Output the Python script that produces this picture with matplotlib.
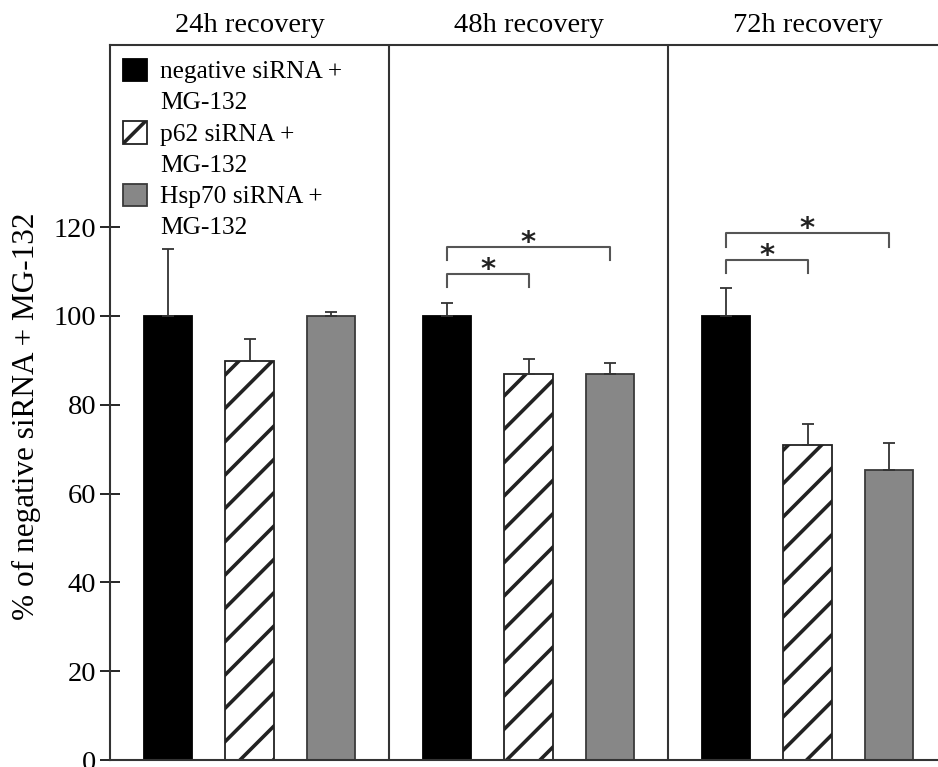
import matplotlib.pyplot as plt
from matplotlib.patches import Rectangle

plt.rcParams['font.family'] = ['Liberation Serif', 'DejaVu Serif']
plt.rcParams['hatch.linewidth'] = 2.6

# data
panels = ['24h recovery', '48h recovery', '72h recovery']
groups = ['negative siRNA +\nMG-132', 'p62 siRNA +\nMG-132', 'Hsp70 siRNA +\nMG-132']
neg_vals = [100, 100, 100]
neg_err = [15, 3, 6.3]
p62_vals = [89.8, 87, 71]
p62_err = [5, 3.2, 4.7]
hsp_vals = [100, 87, 65.3]
hsp_err = [0.8, 2.4, 6]
# significance brackets: (panel, bar a, bar b, height)
sig = [(1, 0, 1, 109.4), (1, 0, 2, 115.5), (2, 0, 1, 112.6), (2, 0, 2, 118.6)]

series = [neg_vals, p62_vals, hsp_vals]
errs = [neg_err, p62_err, hsp_err]
faces = ['black', 'white', '#878787']
edges = ['black', '#222222', '#3a3a3a']
hatches = [None, '/', None]

gap = 3.42   # spacing between panel groups
width = 0.59

fig = plt.figure(figsize=(9.38, 7.67), dpi=100)
ax = fig.add_axes([110/938, 7/767, 837/938, 715/767])

for i in range(3):
    xs = [g*gap + i for g in range(3)]
    ax.bar(xs, series[i], width=width, color=faces[i], edgecolor=edges[i],
           hatch=hatches[i], linewidth=1.3, zorder=2)
    ax.errorbar(xs, series[i], yerr=[[0]*3, errs[i]], fmt='none', ecolor='#333333',
                elinewidth=1.3, capsize=4.5, capthick=1.3, zorder=3)

for p, a, b, h in sig:
    xa = p*gap + a
    xb = p*gap + b
    ax.plot([xa, xa, xb, xb], [h-3.0, h, h, h-3.0], color='#555555', lw=1.5, zorder=3)
    ax.text((xa + xb)/2, h - 0.9, '*', ha='center', va='baseline', fontsize=21,
            family='DejaVu Sans', weight='bold', color='#222222')

ax.set_xlim(-0.71, 3*gap - 0.71)
ax.set_ylim(0, 161)
for g in range(1, 3):
    ax.axvline(g*gap - 0.71, color='#333333', lw=1.5)
for g, name in enumerate(panels):
    ax.text(g*gap - 0.71 + gap/2, 162.5, name, ha='center', va='bottom', fontsize=20.5)

ax.spines['right'].set_visible(False)
for s in ['left', 'bottom', 'top']:
    ax.spines[s].set_linewidth(1.5)
    ax.spines[s].set_color('#333333')
ax.set_xticks([])
ax.set_yticks([0, 20, 40, 60, 80, 100, 120])
ax.tick_params(axis='y', direction='inout', length=14, width=1.2, labelsize=20.5, pad=3)
fig.text(26/938, 1 - 416/767, '% of negative siRNA + MG-132', rotation=90,
         ha='center', va='center', fontsize=22.5)

# legend drawn by hand: square on the first line of each two-line label
for i, lab in enumerate(groups):
    top = 59 + i*62.5
    fig.patches.append(Rectangle((123/938, 1 - (top+22)/767), 24/938, 22/767,
                                 transform=fig.transFigure, facecolor=faces[i],
                                 edgecolor=edges[i], hatch=hatches[i], lw=1.3))
    for j, line in enumerate(lab.split('\n')):
        fig.text(160/938, 1 - (78 + i*62.5 + j*31)/767, line, fontsize=18.3,
                 va='baseline', ha='left')

fig.savefig('out.png', dpi=100)
